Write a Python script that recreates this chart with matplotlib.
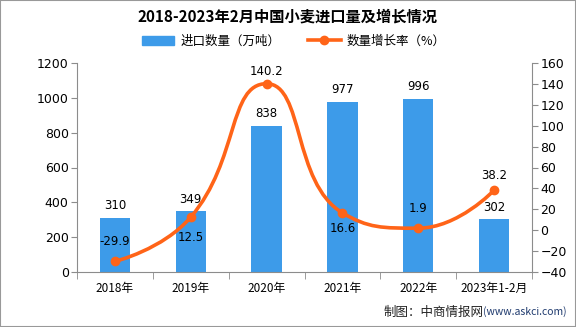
import numpy as np
import matplotlib
matplotlib.use("Agg")
import matplotlib.pyplot as plt
from matplotlib.path import Path
from matplotlib.patches import PathPatch, Rectangle
from matplotlib.lines import Line2D

plt.rcParams['font.family'] = ['Noto Sans CJK SC', 'DejaVu Sans']

# data
categories = ["2018年", "2019年", "2020年", "2021年", "2022年", "2023年1-2月"]
imports = [310, 349, 838, 977, 996, 302]        # 进口数量（万吨）
growth = [-29.9, 12.5, 140.2, 16.6, 1.9, 38.2]  # 数量增长率（%）

# label placement for the growth line (pixels, + above / - below)
growth_label_dy = [20, -20, 12, -16, 20, 15]

bar_color = "#3d9be9"
line_color = "#ff6418"
axis_color = "#8c8c8c"


def smooth_path(pts, smooth=0.5):
    """echarts-style bezier control points, clamped so the curve does not overshoot"""
    n = len(pts)
    cp_in = [p.copy() for p in pts]
    cp_out = [p.copy() for p in pts]
    for i in range(1, n - 1):
        p, prev, nxt = pts[i], pts[i - 1], pts[i + 1]
        v = nxt - prev
        l0 = np.hypot(*(p - prev))
        l1 = np.hypot(*(nxt - p))
        r = l1 / (l0 + l1)
        c1 = p + v * smooth * r
        c1 = np.minimum(c1, np.maximum(nxt, p))
        c1 = np.maximum(c1, np.minimum(nxt, p))
        c0 = p - (c1 - p) * l0 / l1
        c0 = np.minimum(c0, np.maximum(prev, p))
        c0 = np.maximum(c0, np.minimum(prev, p))
        c1 = p + (p - c0) * l1 / l0
        cp_in[i], cp_out[i] = c0, c1
    verts = [pts[0]]
    codes = [Path.MOVETO]
    for i in range(n - 1):
        verts += [cp_out[i], cp_in[i + 1], pts[i + 1]]
        codes += [Path.CURVE4] * 3
    return np.array(verts), codes


fig = plt.figure(figsize=(5.76, 3.27), dpi=100)
ax = fig.add_axes([77 / 576, 55 / 327, 455 / 576, 209 / 327])
ax2 = ax.twinx()

x = np.arange(len(categories))
ax.bar(x, imports, width=0.4, color=bar_color, zorder=2)
ax.set_xlim(-0.5, len(categories) - 0.5)
ax.set_ylim(0, 1200)
ax.set_yticks(np.arange(0, 1201, 200))
ax2.set_ylim(-40, 160)
ax2.set_yticks(np.arange(-40, 161, 20))

for xi, v in zip(x, imports):
    ax.annotate(str(v), (xi, v), xytext=(0, 4), textcoords="offset points",
                ha="center", va="bottom", fontsize=8.5, family=["DejaVu Sans"])

# smooth line through the growth points
fig.canvas.draw()
pts = ax2.transData.transform(np.column_stack([x, growth]))
verts, codes = smooth_path(pts)
verts = ax2.transData.inverted().transform(verts)
ax2.add_patch(PathPatch(Path(verts, codes), fill=False, edgecolor=line_color,
                        lw=2.6, zorder=3, capstyle="round"))
ax2.plot(x, growth, "o", color=line_color, ms=6, zorder=4)

for xi, v, dy in zip(x, growth, growth_label_dy):
    ax2.annotate(f"{v}", (xi, v), xytext=(0, dy * 0.72), textcoords="offset points",
                 ha="center", va="center", fontsize=8.5, family=["DejaVu Sans"],
                 zorder=5)

# axes styling
for a in (ax, ax2):
    a.spines["top"].set_visible(False)
    for sp in a.spines.values():
        sp.set_color(axis_color)
ax.spines["right"].set_visible(False)
ax2.spines["left"].set_visible(False)
ax2.spines["bottom"].set_visible(False)

ax.set_xticks(x)
ax.set_xticklabels(categories, fontsize=8.5)
ax.set_xticks(np.arange(-0.5, len(categories)), minor=True)
ax.tick_params(axis="x", which="major", length=0, pad=7)
ax.tick_params(axis="x", which="minor", length=5, color=axis_color)
ax.tick_params(axis="y", length=4, color=axis_color, labelsize=9, pad=2)
ax2.tick_params(axis="y", length=4, color=axis_color, labelsize=9, pad=2)
for lab in ax.get_yticklabels() + ax2.get_yticklabels():
    lab.set_family(["DejaVu Sans"])

# title and legend
fig.text(0.5, 1 - 17 / 327, "2018-2023年2月中国小麦进口量及增长情况",
         ha="center", va="center", fontsize=11, fontweight="bold")
handles = [Rectangle((0, 0), 1, 1, color=bar_color),
           Line2D([0], [0], color=line_color, lw=2.6, marker="o", ms=6)]
fig.legend(handles, ["进口数量（万吨）", "数量增长率（%）"], loc="center",
           bbox_to_anchor=(0.51, 1 - 41 / 327), ncol=2, frameon=False,
           fontsize=9, handlelength=2.6, handleheight=0.7, columnspacing=2.2,
           handletextpad=0.5)

# source note
url = fig.text(567 / 576, 1 - 312 / 327, "(www.askci.com)", ha="right", va="center",
               fontsize=7.5, color="#1f3a6e")
fig.canvas.draw()
bb = url.get_window_extent()
fig.text(bb.x0 / 576, 1 - 312 / 327, "制图：中商情报网", ha="right", va="center",
         fontsize=9, color="#222222")

# border around the picture
fig.patches.append(Rectangle((0, 0), 1, 1, transform=fig.transFigure, fill=False,
                             edgecolor="#999999", lw=1.5))

fig.savefig("out.png", dpi=100)
